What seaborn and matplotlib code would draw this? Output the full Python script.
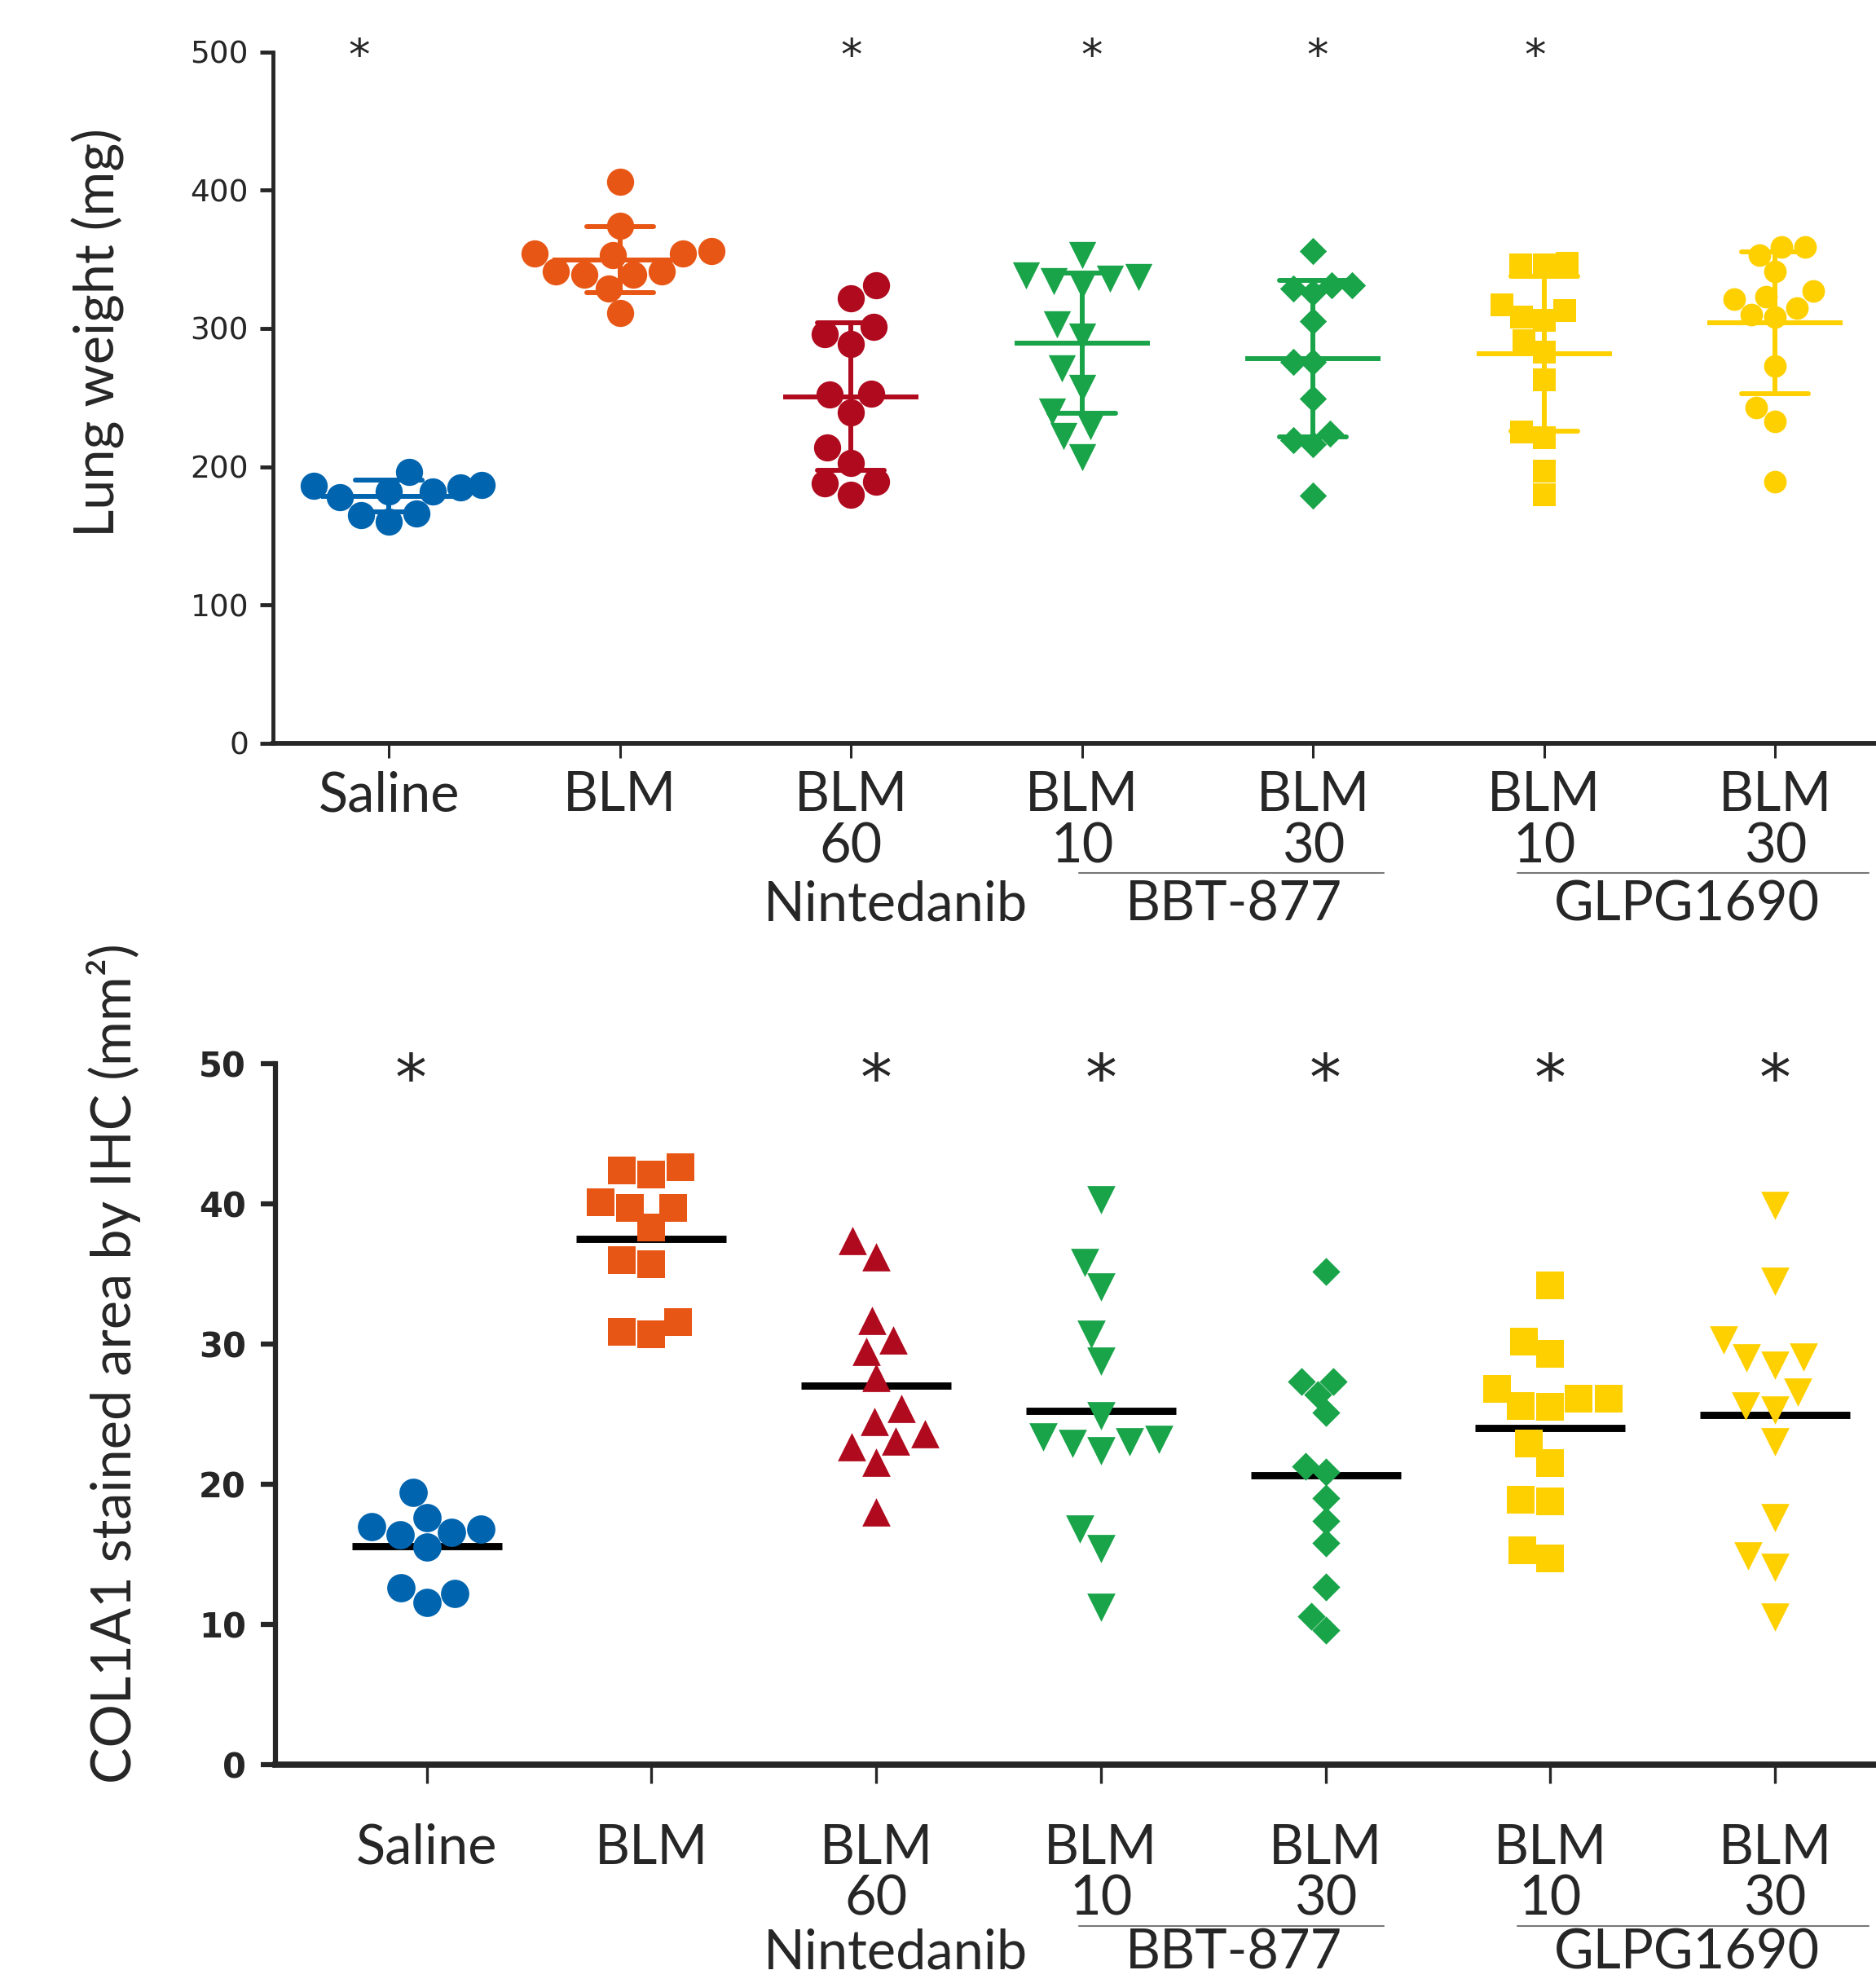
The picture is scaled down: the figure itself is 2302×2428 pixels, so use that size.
import numpy as np
import pandas as pd
import seaborn as sns
import matplotlib.pyplot as plt
from matplotlib.lines import Line2D


# data
#====================================================================================================
groups      = ["Saline", "BLM", "Nin 60", "BBT 10", "BBT 30", "GLPG 10", "GLPG 30"]
tick_labels = ["Saline", "BLM", "BLM\n60", "BLM\n10", "BLM\n30", "BLM\n10", "BLM\n30"]
colors      = ["#0064AF", "#E85615", "#B00A1E", "#1AA44A", "#1AA44A", "#FFD000", "#FFD000"]

lung_saline = [196, 187, 185, 182, 186, 182, 178, 166, 165, 160]
lung_blm    = [406, 374, 354, 356, 354, 353, 339, 341, 341, 339, 329, 311]
lung_nin60  = [331, 322, 296, 301, 289, 252, 253, 239, 214, 203, 189, 180, 188]
lung_bbt10  = [353, 336, 331, 337, 334, 338, 303, 294, 271, 257, 240, 229, 222, 207]
lung_bbt30  = [356, 329, 326, 331, 331, 305, 276, 276, 249, 219, 216, 224, 179]
lung_glpg10 = [346, 346, 347, 313, 317, 306, 308, 291, 283, 263, 225, 221, 197, 180]
lung_glpg30 = [359, 359, 353, 341, 327, 323, 321, 315, 310, 308, 273, 243, 233, 189]

col_saline = [19.4, 17.6, 16.8, 17.0, 16.6, 16.4, 15.5, 12.6, 11.6, 12.2]
col_blm    = [42.4, 42.6, 42.1, 40.1, 39.7, 39.7, 38.3, 36.0, 35.7, 31.6, 30.7, 30.9]
col_nin60  = [37.4, 36.2, 31.7, 30.3, 29.5, 27.6, 25.4, 24.5, 23.6, 22.7, 23.1, 21.6, 18.0]
col_bbt10  = [40.3, 35.8, 34.1, 30.7, 28.8, 24.9, 23.4, 23.0, 22.4, 22.9, 23.2, 16.8, 15.4, 11.2]
col_bbt30  = [35.2, 27.3, 27.3, 26.4, 25.1, 20.9, 21.3, 19.0, 17.4, 15.8, 12.7, 10.6, 9.6]
col_glpg10 = [34.2, 30.2, 29.3, 26.8, 26.1, 25.6, 26.1, 25.5, 22.9, 21.5, 18.9, 18.8, 14.7, 15.3]
col_glpg30 = [39.9, 34.5, 30.3, 29.0, 29.1, 28.5, 26.6, 25.3, 25.6, 23.0, 17.6, 14.9, 14.1, 10.5]

stars_top    = [-0.13, 2.0, 3.04, 4.02, 4.96]
stars_bottom = [-0.07, 2.0, 3.0, 4.0, 5.0, 6.0]

drug_labels = ["Nintedanib", "BBT-877", "GLPG1690"]
#====================================================================================================


def long_table(series):
    rows = []
    for g, vals in zip(groups, series):
        for v in vals:
            rows.append((g, v))
    return pd.DataFrame(rows, columns=["group", "value"])


lung = long_table([lung_saline, lung_blm, lung_nin60, lung_bbt10, lung_bbt30, lung_glpg10, lung_glpg30])
col  = long_table([col_saline, col_blm, col_nin60, col_bbt10, col_bbt30, col_glpg10, col_glpg30])

top_markers    = ["o", "o", "o", "v", "D", "s", "o"]
top_sizes      = [24, 24, 24, 24, 17, 19.5, 20]
bottom_markers = ["o", "s", "^", "v", "D", "s", "v"]
bottom_sizes   = [25, 25, 25, 25, 17.5, 25, 25]


sns.set_style("ticks")
plt.rcParams["font.family"] = ["Lato", "DejaVu Sans"]

fig = plt.figure(figsize=(23.02, 24.28), dpi=100)
ax1 = fig.add_axes([0.1455, 0.6244, 0.8545, 0.3494])
ax2 = fig.add_axes([0.1468, 0.1083, 0.8532, 0.3542])


# top panel: lung weight, mean +/- SD in group colour
#----------------------------------------------------------------------------------------------------
for g, c, m, s in zip(groups, colors, top_markers, top_sizes):
    sub = lung[lung["group"] == g]
    sns.pointplot(data=sub, x="group", y="value", order=groups, color=c,
                  errorbar="sd", capsize=0.29, markers="_", linestyles="none",
                  markersize=120, markeredgewidth=4.3,
                  err_kws={"linewidth": 4.3}, ax=ax1)
    sns.swarmplot(data=sub, x="group", y="value", order=groups, color=c,
                  marker=m, size=s, linewidth=0, zorder=3, ax=ax1)

ax1.set_xticks(range(len(groups)))
ax1.set_xticklabels(tick_labels)
ax1.set_xlim(-0.502, 6.436)
ax1.set_ylim(0, 500)
ax1.set_yticks(range(0, 501, 100))
ax1.set_xlabel("")
ax1.set_ylabel("Lung weight (mg)", fontsize=48)
ax1.yaxis.set_label_coords(0.0525, 0.832, transform=fig.transFigure)
ax1.yaxis.label.set_va("center")

ax1.tick_params(axis="x", length=13, width=2.2, labelsize=48, pad=11)
ax1.tick_params(axis="y", length=11.5, width=3.5, labelsize=27,
                labelfontfamily="DejaVu Sans", pad=10)
sns.despine(ax=ax1)
ax1.spines["left"].set_linewidth(3.5)
ax1.spines["bottom"].set_linewidth(4.2)

for x in stars_top:
    ax1.text(x, 496, "*", ha="center", va="center", fontsize=38,
             family="DejaVu Sans", clip_on=False)


# bottom panel: COL1A1 stained area, black mean line
#----------------------------------------------------------------------------------------------------
for g, c, m, s in zip(groups, colors, bottom_markers, bottom_sizes):
    sub = col[col["group"] == g]
    sns.pointplot(data=sub, x="group", y="value", order=groups, color="black",
                  errorbar=None, markers="_", linestyles="none",
                  markersize=132, markeredgewidth=6.4, ax=ax2)
    sns.swarmplot(data=sub, x="group", y="value", order=groups, color=c,
                  marker=m, size=s, linewidth=0, zorder=3, ax=ax2)

ax2.set_xticks(range(len(groups)))
ax2.set_xticklabels(tick_labels)
ax2.set_xlim(-0.673, 6.449)
ax2.set_ylim(0, 50)
ax2.set_yticks(range(0, 51, 10))
ax2.set_xlabel("")
ax2.set_ylabel("COL1A1 stained area by IHC (mm²)", fontsize=48)
ax2.yaxis.set_label_coords(0.0605, 0.3112, transform=fig.transFigure)
ax2.yaxis.label.set_va("center")

ax2.tick_params(axis="x", length=16.5, width=2.4, labelsize=48, pad=35)
ax2.tick_params(axis="y", length=13, width=4.5, labelsize=30,
                labelfontfamily="DejaVu Sans", pad=13)
for lbl in ax2.get_yticklabels():
    lbl.set_fontweight("bold")
sns.despine(ax=ax2)
ax2.spines["left"].set_linewidth(4.5)
ax2.spines["bottom"].set_linewidth(5.5)

for x in stars_bottom:
    ax2.text(x, 48.7, "*", ha="center", va="center", fontsize=56,
             family="DejaVu Sans", clip_on=False)

for ax in (ax1, ax2):
    for lbl in ax.get_xticklabels():
        lbl.set_linespacing(1.02)


# drug names and the lines that group the doses
#----------------------------------------------------------------------------------------------------
label_x = [0.4775, 0.6577, 0.8991]
for y_text, y_line in ((0.5427, 0.559), (0.0128, 0.0268)):
    for name, x in zip(drug_labels, label_x):
        fig.text(x, y_text, name, ha="center", va="center", fontsize=48)
    for x0, x1 in ((0.575, 0.7377), (0.809, 0.996)):
        fig.add_artist(Line2D([x0, x1], [y_line, y_line], transform=fig.transFigure,
                              color="#777777", linewidth=1.5))

plt.savefig("out.png", dpi=100)
